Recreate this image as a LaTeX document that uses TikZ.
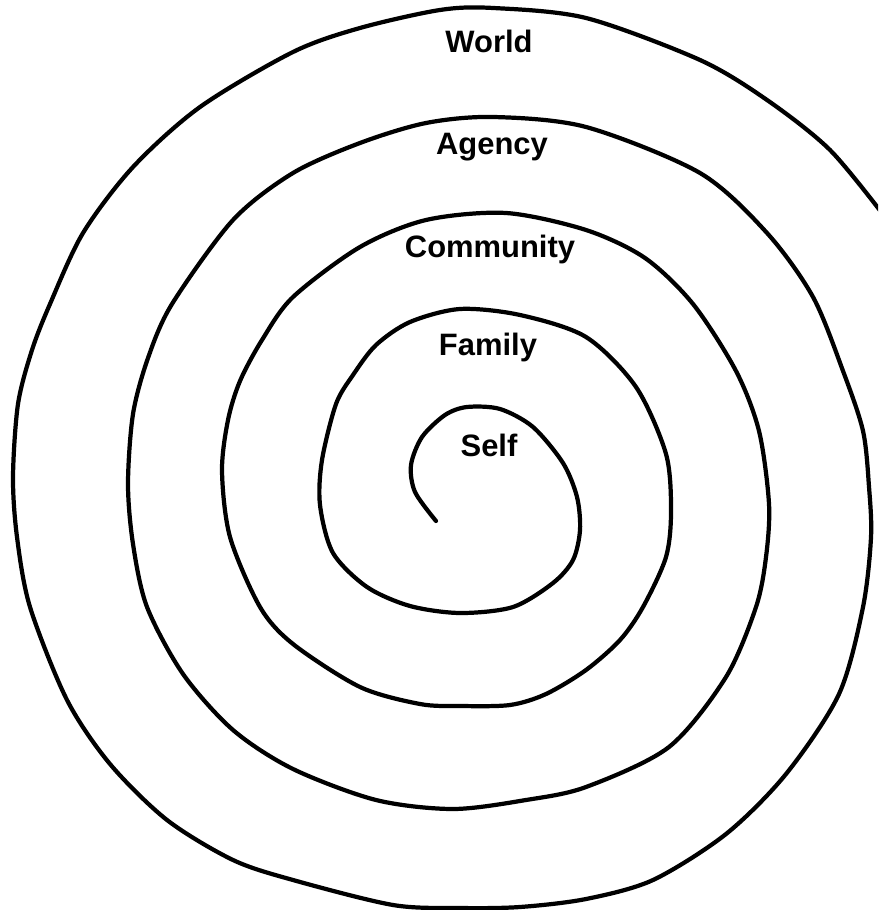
\documentclass[tikz,border=0pt]{standalone}
\usepackage{fontspec}
\newfontfamily\ringfont{Liberation Sans}
\usepackage{tikz}

\begin{document}
\begin{tikzpicture}[x=0.01cm, y=-0.01cm,
  spiral/.style={line width=1.2pt, line join=round, line cap=round},
  ringlabel/.style={font=\ringfont\bfseries\fontsize{8.8}{10}\selectfont, anchor=base, inner sep=0pt}]
\clip (0,0) rectangle (878,910);
% one line, from the middle outwards
\draw[spiral] plot[smooth, tension=0.5] coordinates {
  (436,521) (415,492) (411,465) (422,437) (445,415) (467,407) (500,409)
  (533,427) (563,463) (577,497) (580,530) (573,560) (553,583) (513,607)
  (460,613) (410,606) (367,587) (333,553) (320,505) (322,460) (336,404)
  (353,375) (376,345) (410,322) (460,309) (520,315) (586,337) (636,387)
  (666,454) (671,511) (666,557) (643,607) (620,640) (586,670) (546,694)
  (510,705) (460,706) (420,704) (360,687) (293,644) (260,607) (230,537)
  (222,471) (228,420) (240,381) (262,340) (293,297) (360,247) (426,220)
  (506,213) (586,230) (645,258) (693,304) (736,371) (759,431) (769,504)
  (766,557) (756,607) (726,677) (669,747) (586,787) (526,800) (453,809)
  (376,800) (293,769) (233,730) (183,674) (147,607) (133,544) (128,484)
  (133,414) (148,358) (172,304) (233,220) (293,173) (360,143) (426,123)
  (493,117) (586,127) (700,173) (767,233) (813,297) (843,371) (863,431)
  (869,487) (871,537) (863,607) (839,694) (786,774) (726,834) (653,880)
  (586,899) (520,907) (460,908) (393,905) (293,880) (233,860) (167,820)
  (110,764) (67,700) (30,607) (17,537) (13,477) (18,404) (32,350)
  (50,304) (83,233) (133,167) (200,107) (293,52) (360,28) (440,10)
  (493,8) (586,18) (700,60) (767,100) (830,150) (885,217)};
\node[ringlabel] (world) at (489,53) {World};
\node[ringlabel] (agency) at (492,155) {Agency};
\node[ringlabel] (community) at (490,258) {Community};
\node[ringlabel] (family) at (488,356) {Family};
\node[ringlabel] (self) at (489,456) {Self};
\end{tikzpicture}
\end{document}
